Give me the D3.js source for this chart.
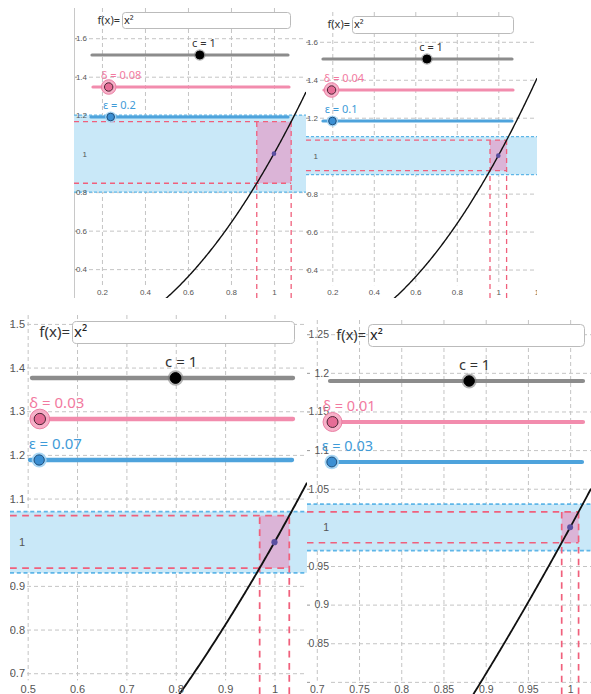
<!DOCTYPE html>
<html><head><meta charset="utf-8">
<script src="https://cdn.jsdelivr.net/npm/d3@7"></script>
<style>body{margin:0;background:#fff} svg{display:block;font-family:"Noto Sans","DejaVu Sans",sans-serif}</style>
</head><body>
<svg id="chart" width="591" height="694"></svg>
<script>
// ---------- data ----------
const panelIds = ["A", "B", "C", "D"];
const functionText = "x²";
const cValues = [1, 1, 1, 1];
const deltaValues = [0.08, 0.04, 0.03, 0.01];
const epsilonValues = [0.2, 0.1, 0.07, 0.03];
const cSliderRange = [-0.1, 1.9];
const deltaSliderRange = [0, 1];
const epsilonSliderRange = [0, 2];
const xDomains = [[0.07, 1.149], [0.0733, 1.1865], [0.4642, 1.0659], [0.6884, 1.0247]];
const yDomains = [[0.25, 1.757], [0.25, 1.757], [0.6524, 1.5204], [0.7843, 1.2684]];
const xTickValues = [
  [0.2, 0.4, 0.6, 0.8, 1],
  [0.2, 0.4, 0.6, 0.8, 1, 1.2],
  [0.5, 0.6, 0.7, 0.8, 0.9, 1],
  [0.7, 0.75, 0.8, 0.85, 0.9, 0.95, 1]
];
const yTickValues = [
  [0.4, 0.6, 0.8, 1, 1.2, 1.4, 1.6],
  [0.4, 0.6, 0.8, 1, 1.2, 1.4, 1.6],
  [0.7, 0.8, 0.9, 1, 1.1, 1.2, 1.3, 1.4, 1.5],
  [0.8, 0.85, 0.9, 0.95, 1, 1.05, 1.1, 1.15, 1.2, 1.25]
];
const f = x => x * x; // f(x) = x²

// ---------- layout ----------
const layout = [
  {x0:74,x1:306,y0:8,y1:298,s:1,tickFs:8,labFs:11,yLabRight:87,xLabY:292,border:true,
   fLabRight:120,box:[122,290,12,28],c:[92,288,55],d:[93,289,87],e:[91,288,117]},
  {x0:306,x1:537,y0:12,y1:298,s:1,tickFs:8,labFs:11,yLabRight:318,xLabY:292,border:false,
   fLabRight:350,box:[352,513,16,33],c:[323,512,59],d:[324,513,90],e:[323,512,121]},
  {x0:10,x1:307,y0:315,y1:694,s:1.35,tickFs:11,labFs:15,yLabRight:25,xLabY:689,border:false,
   fLabRight:70,box:[72,294,321,343],c:[32,293,378],d:[32,293,419],e:[30,292,460]},
  {x0:307,x1:591,y0:320,y1:694,s:1.3,tickFs:10.5,labFs:14.5,yLabRight:329,xLabY:689,border:false,
   fLabRight:366,box:[368,584,324,346],c:[330,583,381],d:[330,583,422],e:[328,582,462]}
];
const C = {
  grid:"#c4c4c4", tick:"#555", band:"#c9e8f8", bandLine:"#5fb6e8",
  rect:"#dbb4d7", pink:"#f0607c", curve:"#111", point:"#5a4fa0",
  cLine:"#8c8c8c", dLine:"#f28cad", eLine:"#4ea3dc",
  cText:"#333", dText:"#f27aa0", eText:"#3f9bd8"
};

const svg = d3.select("#chart");
const defs = svg.append("defs");

panelIds.forEach((id, i) => {
  const L = layout[i], s = L.s;
  const c = cValues[i], dl = deltaValues[i], ep = epsilonValues[i];
  const x = d3.scaleLinear().domain(xDomains[i]).range([L.x0, L.x1]);
  const y = d3.scaleLinear().domain(yDomains[i]).range([L.y1, L.y0]);
  defs.append("clipPath").attr("id", "clip" + id).append("rect")
    .attr("x", L.x0).attr("y", L.y0).attr("width", L.x1 - L.x0).attr("height", L.y1 - L.y0);
  const g = svg.append("g").attr("clip-path", `url(#clip${id})`);
  g.append("rect").attr("x", L.x0).attr("y", L.y0).attr("width", L.x1 - L.x0)
    .attr("height", L.y1 - L.y0).attr("fill", "#fff");

  // grid lines via axes
  const vTop = L.y0, vLen = (L.xLabY - L.tickFs * 0.6 - 2) - L.y0;
  const gx = g.append("g").attr("transform", `translate(0,${vTop})`)
    .call(d3.axisBottom(x).tickValues(xTickValues[i]).tickSize(vLen).tickFormat(""));
  const gy = g.append("g").attr("transform", `translate(${L.yLabRight + 2},0)`)
    .call(d3.axisRight(y).tickValues(yTickValues[i]).tickSize(L.x1 - L.yLabRight).tickFormat(""));
  [gx, gy].forEach(a => {
    a.select(".domain").remove();
    a.selectAll("line").attr("stroke", C.grid).attr("stroke-dasharray", "4,3").attr("stroke-width", 1);
  });
  // small edge ticks
  const et = g.append("g").attr("transform", `translate(${L.x0},0)`)
    .call(d3.axisRight(y).tickValues(yTickValues[i]).tickSize(3).tickFormat(""));
  et.select(".domain").remove();
  et.selectAll("line").attr("stroke", "#999");
  if (L.border) g.append("line").attr("x1", L.x0 + 0.5).attr("x2", L.x0 + 0.5)
    .attr("y1", L.y0).attr("y2", L.y1).attr("stroke", "#c8c8c8");

  // epsilon band
  const yTop = y(f(c) + ep), yBot = y(f(c) - ep);
  g.append("rect").attr("x", L.x0).attr("width", L.x1 - L.x0).attr("y", yTop)
    .attr("height", yBot - yTop).attr("fill", C.band);
  [yTop, yBot].forEach(v => g.append("line").attr("x1", L.x0).attr("x2", L.x1)
    .attr("y1", v).attr("y2", v).attr("stroke", C.bandLine).attr("stroke-width", 1.3 * s)
    .attr("stroke-dasharray", `${3 * s},${2 * s}`));

  // delta rectangle
  const xa = x(c - dl), xb = x(c + dl), ya = y(f(c - dl)), yb = y(f(c + dl));
  g.append("rect").attr("x", xa).attr("y", yb).attr("width", xb - xa).attr("height", ya - yb)
    .attr("fill", C.rect);
  const dash = `${5 * s},${4 * s}`;
  const pl = (x1, y1, x2, y2) => g.append("line").attr("x1", x1).attr("y1", y1).attr("x2", x2).attr("y2", y2)
    .attr("stroke", C.pink).attr("stroke-width", 1.3 * s).attr("stroke-dasharray", dash);
  pl(L.x0, ya, xb, ya); pl(L.x0, yb, xb, yb);
  pl(xa, L.y1, xa, yb); pl(xb, L.y1, xb, yb);

  // curve
  const [d0, d1] = xDomains[i];
  const xs = d3.range(0, 301).map(k => d0 + (d1 - d0) * k / 300);
  g.append("path").datum(xs).attr("fill", "none").attr("stroke", C.curve)
    .attr("stroke-width", 1.4 * s)
    .attr("d", d3.line().x(v => x(v)).y(v => y(f(v))));
  g.append("circle").attr("cx", x(c)).attr("cy", y(f(c))).attr("r", 2.3 * s).attr("fill", C.point);

  // tick labels
  const lx = g.append("g").attr("transform", `translate(0,${L.xLabY - 0.36 * L.tickFs})`)
    .call(d3.axisBottom(x).tickValues(xTickValues[i]).tickSize(0).tickPadding(0).tickFormat(d => String(d)));
  const ly = g.append("g").attr("transform", `translate(${L.yLabRight},0)`)
    .call(d3.axisLeft(y).tickValues(yTickValues[i]).tickSize(0).tickPadding(0).tickFormat(d => String(d)));
  [lx, ly].forEach(a => {
    a.select(".domain").remove();
    a.selectAll("text").attr("font-size", L.tickFs).attr("fill", C.tick).attr("font-family", null);
  });
  ly.selectAll(".tick").filter(d => y(d) > L.y1 - 14 * s).remove();

  // input box
  const fs = L.labFs, bx = L.box;
  g.append("text").attr("x", L.fLabRight).attr("y", (bx[2] + bx[3]) / 2 + 0.35 * fs)
    .attr("text-anchor", "end").attr("font-size", fs).attr("fill", "#333").text("f(x)=");
  g.append("rect").attr("x", bx[0] + 0.5).attr("y", bx[2] + 0.5).attr("width", bx[1] - bx[0])
    .attr("height", bx[3] - bx[2]).attr("rx", 3 * s).attr("fill", "#fff").attr("stroke", "#bbb");
  g.append("text").attr("x", bx[0] + 2).attr("y", (bx[2] + bx[3]) / 2 + 0.35 * fs)
    .attr("font-size", fs).attr("fill", "#222").text(functionText);

  // sliders
  function slider(geom, range, value, name, lineCol, textCol, dot) {
    const sc = d3.scaleLinear().domain(range).range([geom[0], geom[1]]);
    const yy = geom[2], cx = sc(value);
    g.append("line").attr("x1", geom[0]).attr("x2", geom[1]).attr("y1", yy).attr("y2", yy)
      .attr("stroke", lineCol).attr("stroke-width", 3.2 * s).attr("stroke-linecap", "round");
    g.append("circle").attr("cx", cx).attr("cy", yy).attr("r", dot.halo * s)
      .attr("fill", dot.haloFill).attr("fill-opacity", dot.haloOp).attr("stroke", dot.haloStroke || "none");
    g.append("circle").attr("cx", cx).attr("cy", yy).attr("r", dot.r * s)
      .attr("fill", dot.fill).attr("stroke", dot.stroke).attr("stroke-width", 1);
    g.append("text").attr("x", cx - 0.7 * fs).attr("y", yy - 0.75 * fs)
      .attr("font-size", fs).attr("fill", textCol).text(`${name} = ${value}`);
  }
  slider(L.c, cSliderRange, c, "c", C.cLine, C.cText,
    {r:4, halo:5.8, fill:"#000", stroke:"#000", haloFill:"#777", haloOp:0.55});
  slider(L.d, deltaSliderRange, dl, "δ", C.dLine, C.dText,
    {r:4.2, halo:7.3, fill:"#e66d96", stroke:"#4a2535", haloFill:"#f6a9c3", haloOp:0.9, haloStroke:"#ea7fa3"});
  slider(L.e, epsilonSliderRange, ep, "ε", C.eLine, C.eText,
    {r:3.8, halo:5.6, fill:"#3b8fd3", stroke:"#1f4f7c", haloFill:"#9fd2f3", haloOp:0.9});
});
</script>
</body></html>
